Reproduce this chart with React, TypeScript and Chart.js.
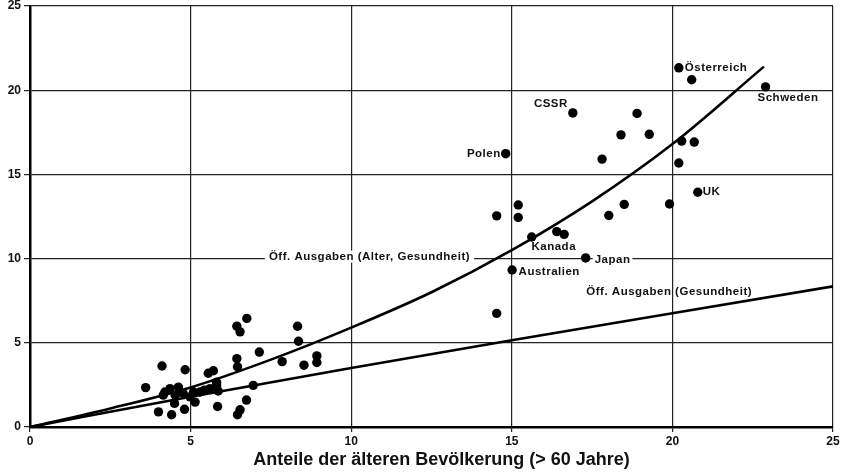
import React, { useEffect, useRef } from "react";
import { Chart, registerables } from "chart.js";

Chart.register(...registerables);

// ---- data ----
const countryNames = ["Österreich", "Schweden", "CSSR", "Polen", "UK", "Kanada", "Japan", "Australien"];
const countryX = [20.2, 22.9, 16.9, 14.81, 20.79, 16.4, 17.3, 15.01];
const countryY = [21.33, 20.2, 18.65, 16.23, 13.94, 11.6, 10.04, 9.32];

const upperX = [20.6, 18.9, 18.4, 19.28, 20.29, 20.68, 17.81, 20.2, 15.2, 18.5, 19.91, 14.53, 15.2, 18.02, 15.62, 16.63, 14.53];
const upperY = [20.62, 18.62, 17.35, 17.38, 16.98, 16.92, 15.91, 15.68, 13.18, 13.22, 13.24, 12.54, 12.44, 12.56, 11.28, 11.44, 6.75];

const lowerX = [3.6, 4.11, 4.83, 4.0, 4.41, 4.81, 4.5, 4.2, 4.36, 4.62, 4.15, 4.52, 4.77, 4.98, 5.09, 5.29, 5.14, 5.42, 5.55, 5.71, 5.6, 5.81, 5.86, 5.81, 5.84, 6.44, 6.54, 6.75, 6.44, 6.46, 6.74, 6.54, 6.46, 6.95, 7.14, 7.85, 8.33, 8.36, 8.53, 8.93, 8.93];
const lowerY = [2.34, 3.62, 3.4, 0.9, 0.73, 1.05, 1.4, 2.08, 2.28, 2.37, 1.89, 1.89, 1.99, 1.79, 2.08, 2.08, 1.48, 2.18, 3.19, 3.34, 2.28, 2.47, 2.14, 2.66, 1.22, 5.99, 5.65, 6.45, 4.06, 3.58, 1.6, 1.02, 0.73, 2.47, 4.45, 3.88, 5.98, 5.09, 3.67, 4.22, 3.83];

const curveAlterX = [0, 2.5, 5, 7.5, 10, 12.5, 15, 17.5, 20, 22.85];
const curveAlterY = [0, 1.1, 2.35, 4.0, 5.9, 8.0, 10.5, 13.4, 16.8, 21.4];
const curveGesX = [0, 5, 10, 15, 20, 25];
const curveGesY = [0, 1.8, 3.5, 5.15, 6.75, 8.35];

const xTickValues = [0, 5, 10, 15, 20, 25];
const yTickValues = [0, 5, 10, 15, 20, 25];
const xTitle = "Anteile der älteren Bevölkerung (> 60 Jahre)";
const curveLabelTexts = ["Öff. Ausgaben (Alter, Gesundheit)", "Öff. Ausgaben (Gesundheit)"];
const curveLabelAnchorX = [13.7, 19.9];
const curveLabelAnchorY = [10, 8.0];

// ---- label styling (pixel offsets relative to anchor) ----
const countryLabelStyle: Record<string, { dx: number; dy: number; align: CanvasTextAlign; bg?: boolean }> = {
  "Österreich": { dx: 6, dy: 0, align: "left" },
  "Schweden": { dx: -8, dy: 10.5, align: "left" },
  "CSSR": { dx: -5, dy: -9, align: "right" },
  "Polen": { dx: -5, dy: 0, align: "right" },
  "UK": { dx: 5, dy: 0, align: "left" },
  "Kanada": { dx: -3, dy: 15.5, align: "center" },
  "Japan": { dx: 9, dy: 2, align: "left", bg: true },
  "Australien": { dx: 6.5, dy: 1.5, align: "left" },
};
const curveLabelStyle = [
  { align: "right" as CanvasTextAlign, dy: -2, bg: true },
  { align: "center" as CanvasTextAlign, dy: 0, bg: false },
];

const FONT = "'Liberation Sans', Arial, Helvetica, sans-serif";

const toPts = (xs: number[], ys: number[]) => xs.map((x, i) => ({ x, y: ys[i] }));

const labelPlugin = {
  id: "labelPlugin",
  afterDatasetsDraw(chart: any) {
    const { ctx, scales } = chart;
    const xs = scales.x, ys = scales.y;
    ctx.save();
    ctx.fillStyle = "#111";
    ctx.textBaseline = "middle";
    try { (ctx as any).letterSpacing = "0.5px"; } catch (e) {}
    ctx.font = `bold 11.5px ${FONT}`;
    countryNames.forEach((name, i) => {
      const st = countryLabelStyle[name];
      const px = xs.getPixelForValue(countryX[i]) + st.dx;
      const py = ys.getPixelForValue(countryY[i]) + st.dy;
      ctx.textAlign = st.align;
      if (st.bg) {
        const w = ctx.measureText(name).width;
        let l = px;
        if (st.align === "right") l = px - w;
        if (st.align === "center") l = px - w / 2;
        ctx.fillStyle = "#fff";
        ctx.fillRect(l - 2, py - 6, w + 4, 12);
        ctx.fillStyle = "#111";
      }
      ctx.fillText(name, px, py);
    });
    curveLabelTexts.forEach((t, i) => {
      const st = curveLabelStyle[i];
      const px = xs.getPixelForValue(curveLabelAnchorX[i]);
      const py = ys.getPixelForValue(curveLabelAnchorY[i]) + st.dy;
      ctx.textAlign = st.align;
      if (st.bg) {
        const w = ctx.measureText(t).width;
        let l = px;
        if (st.align === "right") l = px - w;
        if (st.align === "center") l = px - w / 2;
        ctx.fillStyle = "#fff";
        ctx.fillRect(l - 4, py - 6, w + 8, 12);
        ctx.fillStyle = "#111";
      }
      ctx.fillText(t, px, py);
    });
    // axis title
    try { (ctx as any).letterSpacing = "0px"; } catch (e) {}
    ctx.font = `bold 18px ${FONT}`;
    ctx.textAlign = "center";
    ctx.fillText(xTitle, (chart.chartArea.left + chart.chartArea.right) / 2 + 10, 460);
    ctx.restore();
  },
};

export default function App() {
  const ref = useRef<HTMLCanvasElement | null>(null);
  useEffect(() => {
    if (!ref.current) return;
    const pointStyle = {
      showLine: false,
      pointRadius: 4.7,
      pointBackgroundColor: "#000",
      pointBorderWidth: 0,
      borderColor: "#000",
    };
    const chart = new Chart(ref.current, {
      type: "scatter",
      data: {
        datasets: [
          { label: "Alter, Gesundheit", data: toPts(curveAlterX, curveAlterY), showLine: true, pointRadius: 0, borderColor: "#000", borderWidth: 2.6, cubicInterpolationMode: "monotone" } as any,
          { label: "Gesundheit", data: toPts(curveGesX, curveGesY), showLine: true, pointRadius: 0, borderColor: "#000", borderWidth: 2.6, cubicInterpolationMode: "monotone" } as any,
          { label: "Länder", data: toPts(countryX, countryY), ...pointStyle } as any,
          { label: "Weitere", data: toPts(upperX, upperY), ...pointStyle } as any,
          { label: "Weitere2", data: toPts(lowerX, lowerY), ...pointStyle } as any,
        ],
      },
      options: {
        responsive: false,
        animation: false,
        devicePixelRatio: 1,
        layout: { padding: { top: 6, right: 9, left: 0, bottom: 0 } },
        plugins: { legend: { display: false }, tooltip: { enabled: false } },
        scales: {
          x: {
            type: "linear",
            min: 0,
            max: 25,
            afterBuildTicks: (s: any) => { s.ticks = xTickValues.map((v) => ({ value: v })); },
            afterFit: (s: any) => { s.height = 49; s.paddingLeft = 0; s.paddingRight = 0; },
            grid: { color: "#222", lineWidth: 1.2, tickLength: 5, tickColor: "#222" },
            border: { color: "#000", width: 2.5 },
            ticks: { color: "#111", font: { family: FONT, size: 12, weight: "bold" }, padding: 2.5, maxRotation: 0 },
          },
          y: {
            type: "linear",
            min: 0,
            max: 25,
            afterBuildTicks: (s: any) => { s.ticks = yTickValues.map((v) => ({ value: v })); },
            afterFit: (s: any) => { s.width = 30; s.paddingTop = 0; s.paddingBottom = 0; },
            grid: { color: "#222", lineWidth: 1.2, tickLength: 6, tickColor: "#222" },
            border: { color: "#000", width: 2.5 },
            ticks: { color: "#111", font: { family: FONT, size: 12, weight: "bold" }, padding: 3 },
          },
        },
      },
      plugins: [labelPlugin],
    } as any);
    return () => chart.destroy();
  }, []);
  return (
    <div style={{ position: "absolute", left: 0, top: 0, width: 842, height: 476, background: "#fff" }}>
      <canvas ref={ref} width={842} height={476} />
    </div>
  );
}
